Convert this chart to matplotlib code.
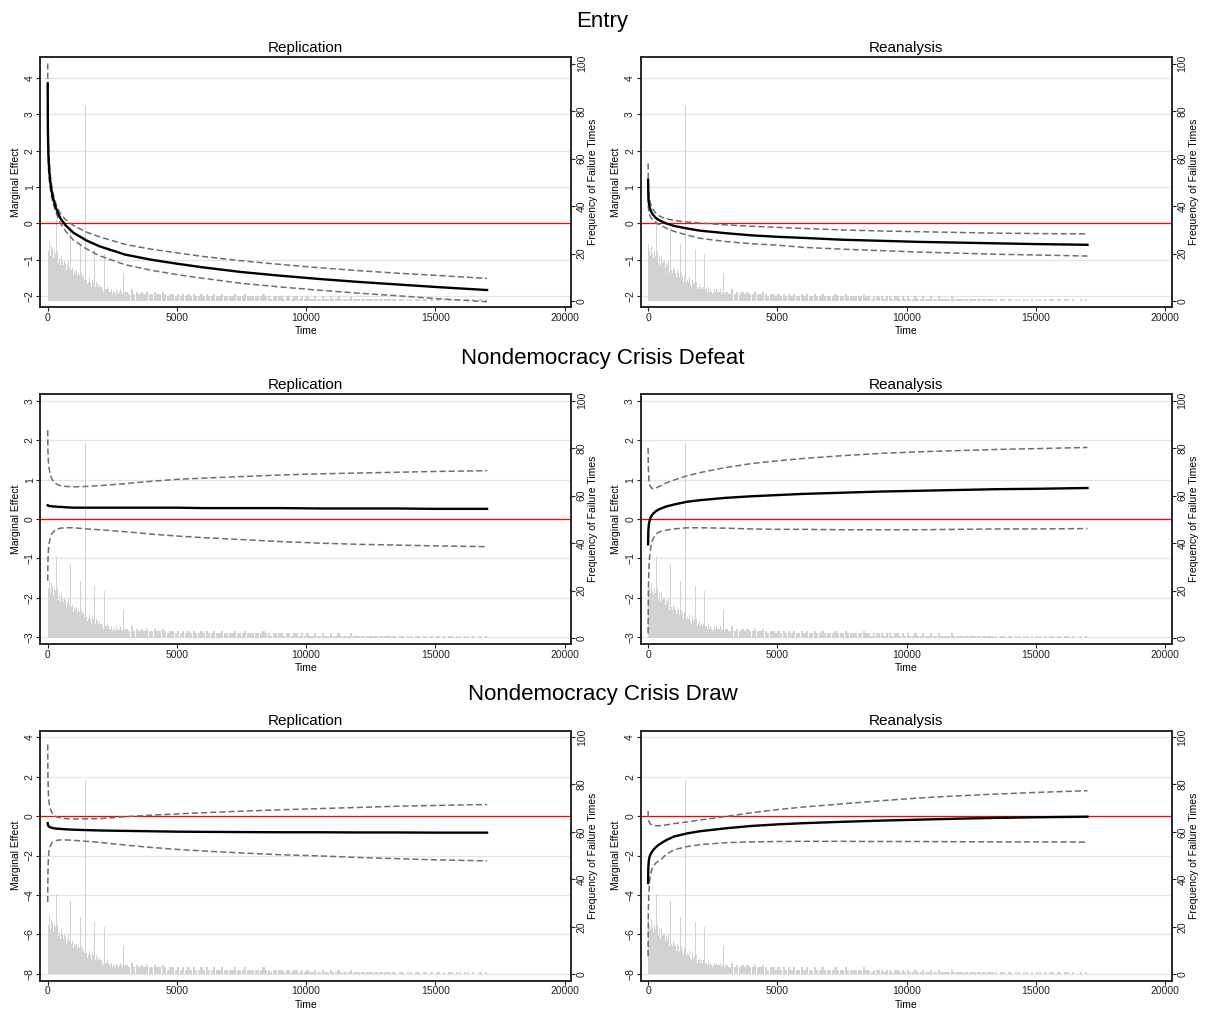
import matplotlib
matplotlib.use("Agg")
import matplotlib.pyplot as plt
import matplotlib.transforms as mtransforms
import numpy as np

plt.rcParams['font.family'] = ['Liberation Sans', 'DejaVu Sans']

# ---------------- data ----------------
ROW_TITLES = ["Entry", "Nondemocracy Crisis Defeat", "Nondemocracy Crisis Draw"]
COL_TITLES = ["Replication", "Reanalysis"]

TIME = [1, 10, 30, 60, 100, 150, 200, 300, 400, 500, 700, 1000, 1500, 2000,
        3000, 4000, 5000, 6000, 7500, 9000, 10500, 12000, 13500, 15000, 17000]

# Entry - Replication
ENTRY_REP_EST = [3.85, 2.50, 1.86, 1.45, 1.15, 0.90, 0.72, 0.46, 0.28, 0.13, -0.06, -0.26, -0.47, -0.63,
                 -0.86, -1.00, -1.11, -1.21, -1.34, -1.44, -1.53, -1.61, -1.68, -1.75, -1.835]
ENTRY_REP_UP = [4.40, 2.90, 2.16, 1.69, 1.34, 1.06, 0.86, 0.58, 0.40, 0.26, 0.10, -0.06, -0.24, -0.37,
                -0.58, -0.71, -0.81, -0.91, -1.03, -1.13, -1.22, -1.30, -1.37, -1.43, -1.515]
ENTRY_REP_LO = [3.30, 2.10, 1.56, 1.21, 0.96, 0.74, 0.58, 0.34, 0.16, 0.00, -0.22, -0.46, -0.70, -0.89,
                -1.14, -1.29, -1.41, -1.51, -1.65, -1.75, -1.84, -1.92, -1.99, -2.07, -2.155]

# Entry - Reanalysis
ENTRY_REA_EST = [1.20, 0.78, 0.57, 0.45, 0.35, 0.28, 0.23, 0.15, 0.10, 0.06, 0.00, -0.07, -0.14, -0.20,
                 -0.27, -0.33, -0.37, -0.40, -0.45, -0.48, -0.51, -0.53, -0.55, -0.57, -0.59]
ENTRY_REA_UP = [1.65, 1.10, 0.83, 0.66, 0.53, 0.44, 0.37, 0.28, 0.22, 0.18, 0.13, 0.08, 0.04, 0.01,
                -0.04, -0.08, -0.11, -0.14, -0.18, -0.21, -0.23, -0.25, -0.27, -0.28, -0.29]
ENTRY_REA_LO = [0.75, 0.46, 0.31, 0.24, 0.17, 0.12, 0.09, 0.02, -0.02, -0.06, -0.13, -0.22, -0.32, -0.41,
                -0.50, -0.56, -0.60, -0.66, -0.71, -0.75, -0.79, -0.82, -0.85, -0.87, -0.90]

# Nondemocracy Crisis Defeat - Replication
DEFEAT_REP_EST = [0.35, 0.34, 0.34, 0.33, 0.33, 0.33, 0.32, 0.32, 0.31, 0.31, 0.30, 0.29, 0.29, 0.29,
                  0.29, 0.29, 0.29, 0.28, 0.28, 0.28, 0.27, 0.27, 0.27, 0.26, 0.26]
DEFEAT_REP_UP = [2.26, 1.75, 1.45, 1.27, 1.13, 1.04, 0.98, 0.91, 0.87, 0.85, 0.83, 0.82, 0.83, 0.85,
                 0.90, 0.96, 1.01, 1.04, 1.08, 1.12, 1.15, 1.17, 1.19, 1.21, 1.23]
DEFEAT_REP_LO = [-1.56, -1.07, -0.77, -0.61, -0.47, -0.38, -0.34, -0.27, -0.25, -0.23, -0.22, -0.22, -0.25, -0.27,
                 -0.32, -0.38, -0.43, -0.47, -0.52, -0.57, -0.61, -0.64, -0.66, -0.68, -0.70]

# Nondemocracy Crisis Defeat - Reanalysis
DEFEAT_REA_EST = [-0.64, -0.30, -0.14, -0.04, 0.04, 0.10, 0.14, 0.20, 0.24, 0.27, 0.32, 0.37, 0.44, 0.48,
                  0.54, 0.58, 0.61, 0.64, 0.67, 0.70, 0.72, 0.74, 0.76, 0.77, 0.79]
DEFEAT_REA_UP = [1.81, 1.30, 1.01, 0.86, 0.82, 0.78, 0.77, 0.79, 0.82, 0.85, 0.92, 0.99, 1.10, 1.18,
                 1.31, 1.41, 1.48, 1.54, 1.61, 1.67, 1.71, 1.74, 1.77, 1.79, 1.82]
DEFEAT_REA_LO = [-2.90, -1.90, -1.29, -0.94, -0.74, -0.58, -0.49, -0.39, -0.34, -0.31, -0.28, -0.25, -0.22, -0.22,
                 -0.23, -0.25, -0.26, -0.26, -0.27, -0.27, -0.27, -0.26, -0.25, -0.25, -0.24]

# Nondemocracy Crisis Draw - Replication
DRAW_REP_EST = [-0.36, -0.45, -0.50, -0.54, -0.57, -0.59, -0.61, -0.63, -0.64, -0.65, -0.67, -0.69, -0.71, -0.73,
                -0.75, -0.77, -0.79, -0.80, -0.81, -0.82, -0.82, -0.83, -0.83, -0.84, -0.84]
DRAW_REP_UP = [3.64, 2.05, 1.10, 0.61, 0.38, 0.21, 0.09, -0.01, -0.06, -0.09, -0.13, -0.15, -0.14, -0.13,
               -0.03, 0.05, 0.11, 0.17, 0.25, 0.32, 0.38, 0.44, 0.50, 0.54, 0.59]
DRAW_REP_LO = [-4.36, -2.95, -2.10, -1.69, -1.52, -1.39, -1.31, -1.25, -1.22, -1.21, -1.21, -1.23, -1.28, -1.33,
               -1.47, -1.59, -1.69, -1.77, -1.87, -1.96, -2.02, -2.10, -2.16, -2.22, -2.27]

# Nondemocracy Crisis Draw - Reanalysis
DRAW_REA_EST = [-3.40, -2.60, -2.25, -2.05, -1.93, -1.82, -1.72, -1.58, -1.47, -1.38, -1.22, -1.04, -0.88, -0.77,
                -0.62, -0.50, -0.42, -0.36, -0.29, -0.23, -0.18, -0.13, -0.09, -0.06, -0.03]
DRAW_REA_UP = [0.26, -0.10, -0.25, -0.35, -0.41, -0.45, -0.47, -0.49, -0.49, -0.48, -0.45, -0.38, -0.30, -0.20,
               -0.02, 0.17, 0.33, 0.46, 0.62, 0.78, 0.92, 1.03, 1.12, 1.20, 1.29]
DRAW_REA_LO = [-7.10, -4.80, -3.90, -3.30, -2.95, -2.70, -2.55, -2.38, -2.28, -2.20, -1.95, -1.71, -1.55, -1.45,
               -1.35, -1.31, -1.29, -1.28, -1.28, -1.29, -1.29, -1.30, -1.31, -1.31, -1.32]

# Frequency of failure times (same histogram in every panel)
FREQ_EARLY = [24, 21, 25, 19, 23, 20, 22, 18, 21, 19,
              20, 17, 21, 16, 19, 18, 15, 19, 16, 17,
              15, 17, 14, 16, 13, 15, 17, 12, 14, 15,
              13, 12, 14, 11, 13, 12, 10, 13, 11, 12,
              10, 11, 9, 12, 10, 8, 11, 9, 10, 8,
              9, 7, 8, 10, 7, 8, 6, 9, 7, 8,
              7, 6, 8, 5, 7, 6, 7, 5, 6, 6,
              5, 6, 4, 6, 5, 5, 4, 6, 5, 4,
              5, 4, 5, 3, 4, 5, 4, 3, 5, 4,
              4, 3, 4, 5, 3, 4, 3, 4, 3, 4]          # 30-day bins, 0-3000
FREQ_LATE = [4, 3, 5, 3, 4, 3, 4, 3, 4, 3,
             3, 4, 3, 3, 4, 3, 2, 3, 3, 2,
             3, 2, 3, 2, 3, 2, 3, 2, 2, 3,
             2, 3, 2, 2, 3, 2, 2, 3, 2, 2,
             2, 2, 3, 2, 2, 2, 3, 2, 2, 2,
             2, 2, 2, 3, 2, 2, 1, 2, 2, 2,
             2, 1, 2, 2, 1, 2, 2, 1, 2, 1,
             2, 1, 1, 2, 1, 1, 2, 1, 1, 2,
             1, 1, 2, 1, 1, 1, 1, 2, 1, 1,
             1, 1, 1, 1, 1, 1, 1, 1, 1, 1,
             1, 1, 1, 1, 1, 0, 1, 1, 0, 1,
             1, 0, 1, 1, 0, 1, 1, 0, 1, 0,
             1, 1, 0, 1, 0, 1, 1, 0, 1, 1,
             0, 1, 1, 0, 1, 0, 0, 1, 0, 1]           # 100-day bins, 3000-17000
SPIKE_TIME = [330, 880, 1260, 1461, 1826, 2191, 2922]
SPIKE_FREQ = [34, 31, 24, 82, 22, 20, 12]

PANELS = [
    [(ENTRY_REP_EST, ENTRY_REP_UP, ENTRY_REP_LO), (ENTRY_REA_EST, ENTRY_REA_UP, ENTRY_REA_LO)],
    [(DEFEAT_REP_EST, DEFEAT_REP_UP, DEFEAT_REP_LO), (DEFEAT_REA_EST, DEFEAT_REA_UP, DEFEAT_REA_LO)],
    [(DRAW_REP_EST, DRAW_REP_UP, DRAW_REP_LO), (DRAW_REA_EST, DRAW_REA_UP, DRAW_REA_LO)],
]
YLIMS = [(-2.31, 4.57), (-3.18, 3.17), (-8.355, 4.335)]
YTICKS = [list(range(-2, 5)), list(range(-3, 4)), list(range(-8, 5, 2))]
RTICKS = list(range(0, 101, 20))
XTICKS = [0, 5000, 10000, 15000, 20000]

# ---------------- layout ----------------
W, H = 1205, 1011
ROW_TOP = [57.3, 394.3, 730.7]
COL_LEFT = [40.3, 640.7]
PW, PH = 531, 250

BAR = '#d2d2d2'
DASH = '#6e6e6e'
GRID = '#e4e4e4'
FS = 7.5

fig = plt.figure(figsize=(W / 100, H / 100), dpi=100)

early_t = np.arange(len(FREQ_EARLY)) * 30 + 15
late_t = 3000 + np.arange(len(FREQ_LATE)) * 100 + 50

for r in range(3):
    dy = ROW_TOP[r] - ROW_TOP[0]
    fig.text(0.5, 1 - (26.7 + dy) / H, ROW_TITLES[r], ha='center', va='baseline', fontsize=16)
    for c in range(2):
        left = COL_LEFT[c]
        top = ROW_TOP[r]
        est, up, lo = PANELS[r][c]
        ax = fig.add_axes([left / W, 1 - (top + PH) / H, PW / W, PH / H])
        ax2 = ax.twinx()
        ax.set_zorder(ax2.get_zorder() + 1)
        ax.patch.set_visible(False)

        ax.set_xlim(-285, 20260)
        ax.set_ylim(*YLIMS[r])
        ax2.set_ylim(-2.65, 102.65)
        ax.set_yticks(YTICKS[r])
        ax2.set_yticks(RTICKS)
        ax.set_xticks(XTICKS)

        tr = mtransforms.blended_transform_factory(ax2.transAxes, ax.transData)
        for yv in YTICKS[r]:
            ax2.plot([0, 1], [yv, yv], transform=tr, color=GRID, lw=0.9, zorder=0)

        ax2.bar(early_t, FREQ_EARLY, width=30, color=BAR, lw=0, zorder=1)
        ax2.bar(late_t, FREQ_LATE, width=85, color=BAR, lw=0, zorder=1)
        ax2.bar(SPIKE_TIME, SPIKE_FREQ, width=35, color=BAR, lw=0, zorder=1)

        ax.axhline(0, color='red', lw=0.9, zorder=1)
        ax.plot(TIME, up, color=DASH, lw=1.1, ls=(0, (4, 2)), zorder=2)
        ax.plot(TIME, lo, color=DASH, lw=1.1, ls=(0, (4, 2)), zorder=2)
        ax.plot(TIME, est, color='black', lw=1.7, zorder=3)

        for a in (ax, ax2):
            for s in a.spines.values():
                s.set_linewidth(1.1)
                s.set_color('#222222')
        ax.tick_params(axis='both', direction='out', length=3, width=0.8, labelsize=FS,
                       colors='#222222', pad=1)
        ax2.tick_params(axis='y', direction='out', length=3, width=0.8, labelsize=FS,
                        colors='#222222', pad=1)
        for lbl in ax.get_yticklabels():
            lbl.set_rotation(90)
            lbl.set_va('center')
        for lbl in ax2.get_yticklabels():
            lbl.set_rotation(90)
            lbl.set_va('center')

        cx = (left + PW / 2) / W
        fig.text(cx, 1 - (51.7 + dy) / H, COL_TITLES[c], ha='center', va='baseline', fontsize=11)
        fig.text(cx, 1 - (334.3 + dy) / H, 'Time', ha='center', va='baseline', fontsize=FS)
        fig.text((left - 24.5) / W, 1 - (top + PH / 2) / H, 'Marginal Effect', rotation=90,
                 ha='center', va='center', fontsize=FS)
        fig.text((left + PW + 22) / W, 1 - (top + PH / 2) / H, 'Frequency of Failure Times',
                 rotation=90, ha='center', va='center', fontsize=FS)

fig.savefig('out.png', dpi=100)
